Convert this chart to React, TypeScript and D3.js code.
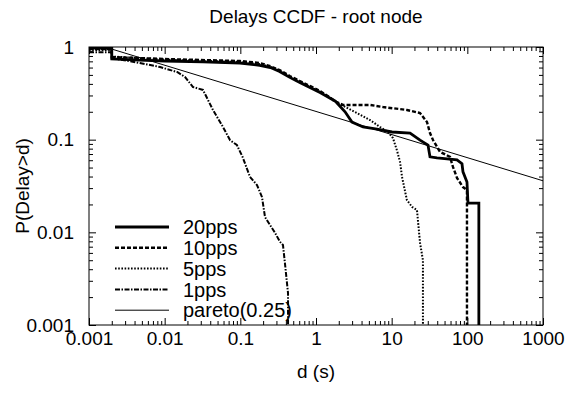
import { useEffect, useRef } from 'react';
import * as d3 from 'd3';

type Pt = [number, number];

const series20pps: Pt[] = [
  [0.001, 0.975], [0.002, 0.975], [0.002, 0.742], [0.0047, 0.72], [0.0101, 0.706],
  [0.032, 0.69], [0.099, 0.672], [0.18, 0.635], [0.25, 0.6], [0.33, 0.545],
  [0.45, 0.47], [0.61, 0.415], [0.83, 0.365], [1.13, 0.322], [1.78, 0.262],
  [2.42, 0.2], [2.99, 0.155], [4.18, 0.137], [6.4, 0.13], [10.1, 0.121],
  [17.5, 0.118], [23.7, 0.099], [30.2, 0.0876], [32.1, 0.0652], [39.7, 0.0636],
  [73, 0.0605], [85, 0.055], [87.6, 0.045], [98.9, 0.0349], [102, 0.0207],
  [142, 0.0207], [142, 0.0009],
];

const series10pps: Pt[] = [
  [0.001, 0.95], [0.002, 0.95], [0.002, 0.78], [0.0101, 0.742], [0.099, 0.706],
  [0.18, 0.672], [0.25, 0.62], [0.33, 0.565], [0.45, 0.486], [0.61, 0.43],
  [0.83, 0.38], [1.13, 0.335], [1.5, 0.289], [1.78, 0.26], [2.27, 0.237],
  [5.17, 0.237], [7.68, 0.225], [15.9, 0.209], [23.7, 0.194], [29.3, 0.155],
  [32.1, 0.118], [35.2, 0.099], [43.5, 0.074], [59, 0.0652], [64.6, 0.0508],
  [73, 0.0387], [87.6, 0.0308], [98.9, 0.0286], [98.9, 0.0009],
];

const series5pps: Pt[] = [
  [0.001, 0.93], [0.002, 0.93], [0.002, 0.79], [0.0101, 0.73], [0.099, 0.69],
  [0.18, 0.655], [0.25, 0.61], [0.33, 0.555], [0.45, 0.475], [0.61, 0.42],
  [0.83, 0.37], [1.13, 0.33], [1.5, 0.285], [1.78, 0.258], [3.48, 0.194],
  [5.17, 0.163], [7.01, 0.137], [8.94, 0.121], [10.4, 0.104], [11.7, 0.0774],
  [12.9, 0.0576], [13.7, 0.0397], [15.9, 0.0223], [18.6, 0.0188], [21.6, 0.0174],
  [23.7, 0.0077], [25.9, 0.005], [25.9, 0.0009],
];

const series1pps: Pt[] = [
  [0.001, 0.88], [0.002, 0.88], [0.002, 0.76], [0.0047, 0.672], [0.0087, 0.608],
  [0.0146, 0.537], [0.0186, 0.474], [0.0237, 0.37], [0.0321, 0.344], [0.0374, 0.268],
  [0.0435, 0.209], [0.059, 0.137], [0.073, 0.099], [0.09, 0.0876], [0.107, 0.0652],
  [0.134, 0.0397], [0.166, 0.0324], [0.193, 0.0241], [0.212, 0.0146], [0.287, 0.0099],
  [0.334, 0.0079], [0.366, 0.0073], [0.389, 0.0046], [0.427, 0.0022], [0.427, 0.0009],
];

const seriesPareto: Pt[] = [[0.002, 0.95], [1000, 0.036]];

const legendLabels = ['20pps', '10pps', '5pps', '1pps', 'pareto(0.25)'];
const xMajorTicks = [0.001, 0.01, 0.1, 1, 10, 100, 1000];
const yMajorTicks = [0.001, 0.01, 0.1, 1];

const FONT = '"Liberation Sans", Arial, Helvetica, sans-serif';

export default function App() {
  const svgRef = useRef<SVGSVGElement>(null);

  useEffect(() => {
    if (!svgRef.current) return;
    const width = 571;
    const height = 393;
    const margin = { top: 47, right: 28, bottom: 68, left: 89 };
    const innerWidth = width - margin.left - margin.right;
    const innerHeight = height - margin.top - margin.bottom;

    const svg = d3.select(svgRef.current);
    svg.selectAll('*').remove();

    const g = svg.append('g').attr('transform', `translate(${margin.left},${margin.top})`);

    const x = d3.scaleLog().domain([0.001, 1000]).range([0, innerWidth]);
    const y = d3.scaleLog().domain([0.001, 1]).range([innerHeight, 0]);

    svg.append('defs').append('clipPath').attr('id', 'plot-clip')
      .append('rect').attr('width', innerWidth).attr('height', innerHeight);

    const xMinor = x.ticks().filter(t => !xMajorTicks.some(m => Math.abs(m - t) / m < 1e-6));
    const yMinor = y.ticks().filter(t => !yMajorTicks.some(m => Math.abs(m - t) / m < 1e-6));

    const styleAxis = (sel: d3.Selection<SVGGElement, unknown, null, undefined>) => {
      sel.select('.domain').remove();
      sel.selectAll('line').attr('stroke', '#000').attr('stroke-width', 1);
      sel.selectAll('text')
        .attr('fill', '#000')
        .attr('font-family', FONT)
        .attr('font-size', '19px');
    };

    // bottom
    g.append('g').attr('transform', `translate(0,${innerHeight})`)
      .call(d3.axisBottom(x).tickValues(xMajorTicks).tickSize(-7).tickPadding(7)
        .tickFormat(d => `${+d}`))
      .call(styleAxis);
    g.append('g').attr('transform', `translate(0,${innerHeight})`)
      .call(d3.axisBottom(x).tickValues(xMinor).tickSize(-4).tickFormat(() => ''))
      .call(styleAxis);
    // top
    g.append('g')
      .call(d3.axisTop(x).tickValues(xMajorTicks).tickSize(-7).tickFormat(() => ''))
      .call(styleAxis);
    g.append('g')
      .call(d3.axisTop(x).tickValues(xMinor).tickSize(-4).tickFormat(() => ''))
      .call(styleAxis);
    // left
    g.append('g')
      .call(d3.axisLeft(y).tickValues(yMajorTicks).tickSize(-7).tickPadding(15)
        .tickFormat(d => `${+d}`))
      .call(styleAxis);
    g.append('g')
      .call(d3.axisLeft(y).tickValues(yMinor).tickSize(-4).tickFormat(() => ''))
      .call(styleAxis);
    // right
    g.append('g').attr('transform', `translate(${innerWidth},0)`)
      .call(d3.axisRight(y).tickValues(yMajorTicks).tickSize(-7).tickFormat(() => ''))
      .call(styleAxis);
    g.append('g').attr('transform', `translate(${innerWidth},0)`)
      .call(d3.axisRight(y).tickValues(yMinor).tickSize(-4).tickFormat(() => ''))
      .call(styleAxis);

    const line = d3.line<Pt>()
      .x(d => x(d[0]))
      .y(d => y(d[1]));

    const styles = [
      { data: series20pps, w: 2.8, dash: null as string | null },
      { data: series10pps, w: 2.4, dash: '4,2' },
      { data: series5pps, w: 2, dash: '1.6,1.6' },
      { data: series1pps, w: 2, dash: '5,1.5,1.5,1.5' },
      { data: seriesPareto, w: 1, dash: null as string | null },
    ];

    const plot = g.append('g').attr('clip-path', 'url(#plot-clip)');
    styles.forEach(s => {
      plot.append('path')
        .datum(s.data)
        .attr('fill', 'none')
        .attr('stroke', '#000')
        .attr('stroke-width', s.w)
        .attr('stroke-dasharray', s.dash)
        .attr('stroke-linejoin', 'miter')
        .attr('d', line);
    });

    g.append('rect')
      .attr('width', innerWidth)
      .attr('height', innerHeight)
      .attr('fill', 'none')
      .attr('stroke', '#000')
      .attr('stroke-width', 1);

    // legend
    const legend = g.append('g');
    styles.forEach((s, i) => {
      const ly = 227 - margin.top + i * 20.8;
      legend.append('line')
        .attr('x1', 115 - margin.left)
        .attr('x2', 169 - margin.left)
        .attr('y1', ly)
        .attr('y2', ly)
        .attr('stroke', '#000')
        .attr('stroke-width', s.w)
        .attr('stroke-dasharray', s.dash);
      legend.append('text')
        .attr('x', 183 - margin.left)
        .attr('y', ly)
        .attr('dy', '0.36em')
        .attr('font-family', FONT)
        .attr('font-size', '20px')
        .attr('fill', '#000')
        .text(legendLabels[i]);
    });

    svg.append('text')
      .attr('x', margin.left + innerWidth / 2)
      .attr('y', 23)
      .attr('text-anchor', 'middle')
      .attr('font-family', FONT)
      .attr('font-size', '19px')
      .attr('fill', '#000')
      .text('Delays CCDF - root node');

    svg.append('text')
      .attr('x', margin.left + innerWidth / 2)
      .attr('y', 378)
      .attr('text-anchor', 'middle')
      .attr('font-family', FONT)
      .attr('font-size', '19px')
      .attr('fill', '#000')
      .text('d (s)');

    svg.append('text')
      .attr('transform', `translate(29,${margin.top + innerHeight / 2}) rotate(-90)`)
      .attr('text-anchor', 'middle')
      .attr('font-family', FONT)
      .attr('font-size', '19px')
      .attr('fill', '#000')
      .text('P(Delay>d)');
  }, []);

  return (
    <svg
      ref={svgRef}
      width={571}
      height={393}
      style={{ position: 'absolute', left: 0, top: 0, background: '#fff' }}
    />
  );
}
